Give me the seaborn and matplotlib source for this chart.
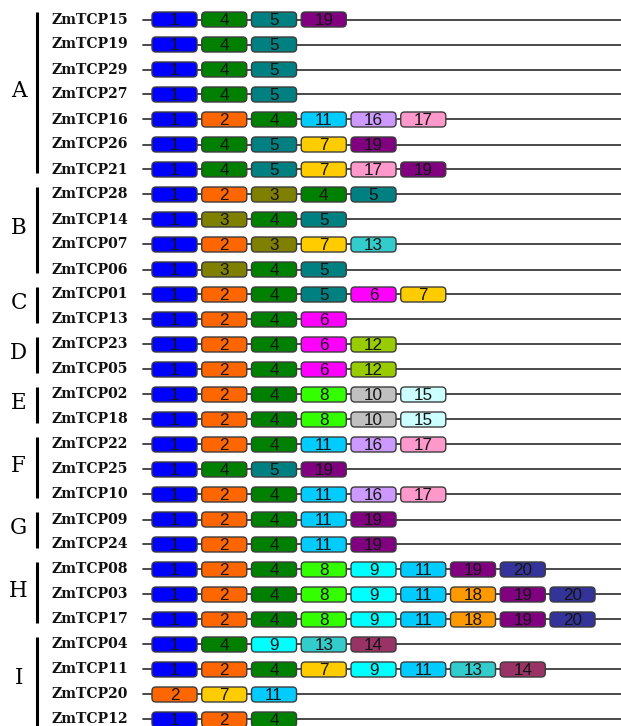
import numpy as np
import pandas as pd
import matplotlib
matplotlib.use('Agg')
import matplotlib.pyplot as plt
from matplotlib.patches import FancyBboxPatch
import seaborn as sns

# Gene order, top to bottom
genes = ['ZmTCP15', 'ZmTCP19', 'ZmTCP29', 'ZmTCP27', 'ZmTCP16', 'ZmTCP26',
         'ZmTCP21', 'ZmTCP28', 'ZmTCP14', 'ZmTCP07', 'ZmTCP06', 'ZmTCP01',
         'ZmTCP13', 'ZmTCP23', 'ZmTCP05', 'ZmTCP02', 'ZmTCP18', 'ZmTCP22',
         'ZmTCP25', 'ZmTCP10', 'ZmTCP09', 'ZmTCP24', 'ZmTCP08', 'ZmTCP03',
         'ZmTCP17', 'ZmTCP04', 'ZmTCP11', 'ZmTCP20', 'ZmTCP12']

# Motifs carried by each gene, left to right
motifs = [[1, 4, 5, 19], [1, 4, 5], [1, 4, 5], [1, 4, 5],
          [1, 2, 4, 11, 16, 17], [1, 4, 5, 7, 19], [1, 4, 5, 7, 17, 19],
          [1, 2, 3, 4, 5], [1, 3, 4, 5], [1, 2, 3, 7, 13], [1, 3, 4, 5],
          [1, 2, 4, 5, 6, 7], [1, 2, 4, 6], [1, 2, 4, 6, 12], [1, 2, 4, 6, 12],
          [1, 2, 4, 8, 10, 15], [1, 2, 4, 8, 10, 15], [1, 2, 4, 11, 16, 17],
          [1, 4, 5, 19], [1, 2, 4, 11, 16, 17], [1, 2, 4, 11, 19],
          [1, 2, 4, 11, 19], [1, 2, 4, 8, 9, 11, 19, 20],
          [1, 2, 4, 8, 9, 11, 18, 19, 20], [1, 2, 4, 8, 9, 11, 18, 19, 20],
          [1, 4, 9, 13, 14], [1, 2, 4, 7, 9, 11, 13, 14], [2, 7, 11], [1, 2, 4]]

# Subfamilies and their number of members
group_names = ['A', 'B', 'C', 'D', 'E', 'F', 'G', 'H', 'I']
group_sizes = [7, 4, 2, 2, 2, 3, 2, 3, 4]

motif_colors = {1: '#0000ff', 2: '#ff6600', 3: '#808000', 4: '#008000',
                5: '#008080', 6: '#ff00ff', 7: '#ffcc00', 8: '#33ff00',
                9: '#00ffff', 10: '#c0c0c0', 11: '#00ccff', 12: '#99cc00',
                13: '#33cccc', 14: '#993366', 15: '#ccffff', 16: '#cc99ff',
                17: '#ff99cc', 18: '#ff9900', 19: '#800080', 20: '#333399'}

sns.set_theme(style='white')

# long table: one row per motif box
rows = []
for i, (g, ms) in enumerate(zip(genes, motifs)):
    for slot, m in enumerate(ms):
        rows.append({'gene': g, 'row': i, 'slot': slot, 'motif': m})
df = pd.DataFrame(rows)

fig = plt.figure(figsize=(6.21, 7.26), dpi=100)
ax = fig.add_axes([0, 0, 1, 1])
# x in motif slots (49.75 px), y in rows (25 px)
ax.set_xlim(-3.055, 9.427)
ax.set_ylim(28.26, -0.78)
ax.axis('off')

# backbone lines
line_df = pd.DataFrame({'gene': np.repeat(genes, 2),
                        'x': np.tile([-0.18, 9.6], len(genes)),
                        'y': np.repeat(np.arange(len(genes)), 2)})
sns.lineplot(data=line_df, x='x', y='y', units='gene', estimator=None,
             color='#3a3a3a', lw=1.3, ax=ax, legend=False, sort=False)

bw, bh = 0.905, 0.6
for _, r in df.iterrows():
    box = FancyBboxPatch((r['slot'], r['row'] - bh / 2), bw, bh,
                         boxstyle='round,pad=0,rounding_size=0.08',
                         mutation_aspect=1.9,
                         facecolor=motif_colors[r['motif']],
                         edgecolor='#3c3c3c', lw=1.0, zorder=3)
    ax.add_patch(box)
    ax.text(r['slot'] + bw / 2, r['row'] + 0.03, str(r['motif']),
            ha='center', va='center', fontsize=12.3, color='#141414',
            family='Liberation Sans', zorder=4)

for i, g in enumerate(genes):
    ax.text(-2.01, i, g, ha='left', va='center', fontsize=10.1,
            family='DejaVu Serif', fontweight='bold', color='#111111')

start = 0
for name, n in zip(group_names, group_sizes):
    end = start + n - 1
    ax.plot([-2.32, -2.32], [start - 0.3, end + 0.15 if name != 'I' else end + 0.6],
            color='black', lw=2.2, solid_capstyle='butt')
    ax.text(-2.68, (start + end) / 2 - 0.15, name, ha='center', va='center',
            fontsize=15.5, family='DejaVu Serif', color='black')
    start += n

fig.savefig('out.png', dpi=100, facecolor='white')
